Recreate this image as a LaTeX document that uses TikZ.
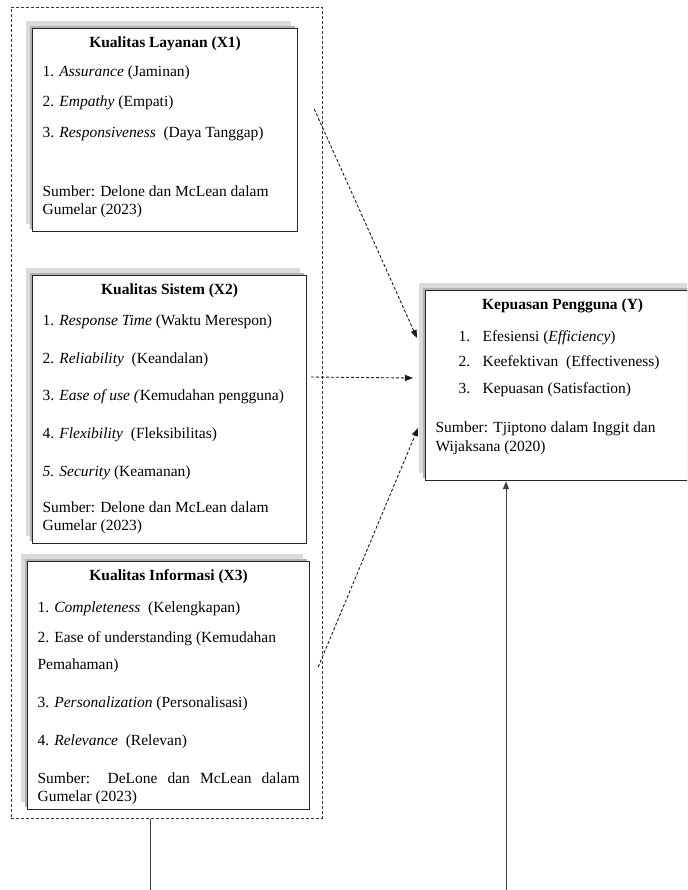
\documentclass[tikz,border=0pt]{standalone}
\usepackage{fontspec}
\setmainfont{Liberation Serif}
\usetikzlibrary{positioning,arrows.meta,calc,shadows}

\begin{document}
\begin{tikzpicture}[x=1pt, y=-1pt,
    indBox/.style={rectangle, draw=black!85, line width=1.2pt, fill=white, anchor=north west, inner xsep=10pt, inner ysep=8pt, font=\fontsize{15.5}{18}\selectfont,
        drop shadow={shadow xshift=-7pt, shadow yshift=8pt, fill=gray!28, opacity=1},
        drop shadow={shadow xshift=-3pt, shadow yshift=3pt, fill=gray!60, opacity=1}},
    groupFrame/.style={rectangle, draw=black!80, line width=0.8pt, dash pattern=on 3pt off 2pt, anchor=north west, inner sep=0pt},
    dashArrow/.style={-{Triangle[length=8pt, width=6pt]}, line width=0.9pt, dash pattern=on 3pt off 2pt, draw=black!90},
    solidArrow/.style={-{Triangle[length=8pt, width=6pt]}, line width=1pt, draw=black!75}
]
    \useasboundingbox (0,0) rectangle (687,890);
    \clip (0,0) rectangle (687,890);

    % Dashed frame around the three X variables
    \node[groupFrame, minimum width=311pt, minimum height=811pt] (grp) at (11,7) {};

    % Node 1: Kualitas Layanan
    \node[indBox] (x1) at (32,28) {\parbox[t][187pt][t]{245pt}{\raggedright
        \makebox[\linewidth][c]{\textbf{Kualitas Layanan (X1)}}\\[11pt]
        1. \textit{Assurance} (Jaminan)\\[12pt]
        2. \textit{Empathy} (Empati)\\[13pt]
        3. \textit{Responsiveness}~ (Daya Tanggap)\\[41pt]
        Sumber: Delone dan McLean dalam\\
        Gumelar (2023)}};

    % Node 2: Kualitas Sistem
    \node[indBox] (x2) at (32,275) {\parbox[t][252pt][t]{254pt}{\raggedright
        \makebox[\linewidth][c]{\textbf{Kualitas Sistem (X2)}}\\[13pt]
        1. \textit{Response Time} (Waktu Merespon)\\[20pt]
        2. \textit{Reliability}~ (Keandalan)\\[19pt]
        3. \textit{Ease of use (}Kemudahan pengguna)\\[20pt]
        4. \textit{Flexibility}~ (Fleksibilitas)\\[20pt]
        \textit{5. Security} (Keamanan)\\[18pt]
        Sumber: Delone dan McLean dalam\\
        Gumelar (2023)}};

    % Node 3: Kualitas Informasi
    \node[indBox] (x3) at (27,561) {\parbox[t][232pt][t]{262pt}{\raggedright
        \makebox[\linewidth][c]{\textbf{Kualitas Informasi (X3)}}\\[14pt]
        1. \textit{Completeness}~ (Kelengkapan)\\[12pt]
        2. Ease of understanding (Kemudahan\\[9pt]
        Pemahaman)\\[20pt]
        3. \textit{Personalization} (Personalisasi)\\[20pt]
        4. \textit{Relevance}~ (Relevan)\\[20pt]
        \makebox[\linewidth][s]{Sumber: DeLone dan McLean dalam}\\
        Gumelar (2023)}};

    % Node 4: Kepuasan Pengguna
    \node[indBox] (Y) at (425,290) {\parbox[t][174pt][t]{254pt}{\raggedright
        \makebox[\linewidth][c]{\textbf{Kepuasan Pengguna (Y)}}\\[14pt]
        \hspace*{23pt}\makebox[24pt][l]{1.}Efesiensi (\textit{Efficiency})\\[7pt]
        \hspace*{23pt}\makebox[24pt][l]{2.}Keefektivan~ (Effectiveness)\\[9pt]
        \hspace*{23pt}\makebox[24pt][l]{3.}Kepuasan (Satisfaction)\\[21pt]
        Sumber: Tjiptono dalam Inggit dan\\[1pt]
        Wijaksana (2020)}};

    % Dashed arrows to Y
    \draw[dashArrow] ($(x1.north east)+(16,81)$) -- ($(Y.north west)+(-8,48)$);
    \draw[dashArrow] ($(x2.north east)+(4,102)$) -- ($(Y.north west)+(-12,88)$);
    \draw[dashArrow] ($(x3.north east)+(8,106)$) -- ($(Y.north west)+(-7,138)$);

    % Joint path from the frame to Y (runs below the edge)
    \coordinate (turn) at ($(Y.south west)+(81,420)$);
    \draw[solidArrow] ($(grp.south west)+(139,0)$) |- (turn) -- ($(Y.south west)+(81,0)$);

\end{tikzpicture}
\end{document}
